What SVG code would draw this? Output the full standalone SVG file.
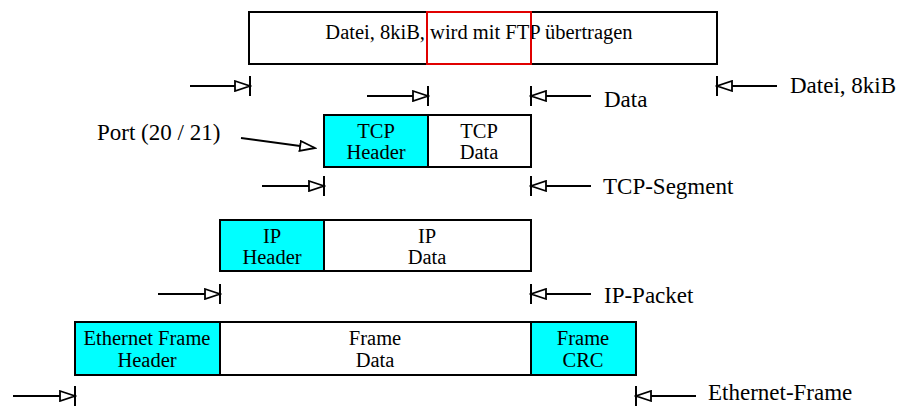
<svg xmlns="http://www.w3.org/2000/svg" width="897" height="406" viewBox="0 0 897 406">
<style>
text{font-family:'Liberation Serif','Times New Roman',Times,serif;font-size:20.5px;fill:#000}
.c{text-anchor:middle}
.lb{font-size:23px}
.box{fill:#fff;stroke:#000;stroke-width:2}
.hdr{fill:#00ffff;stroke:#000;stroke-width:2}
.ln{stroke:#000;stroke-width:2;fill:none}
.ar{stroke:#000;stroke-width:2;fill:none;marker-end:url(#tri)}
</style>
<defs>
<marker id="tri" markerUnits="userSpaceOnUse" markerWidth="18" markerHeight="12" refX="15" refY="5" orient="auto" viewBox="-1 -1 18 12">
<path d="M0,0 L15,5 L0,10 Z" fill="#fff" stroke="#000" stroke-width="1.8"/>
</marker>
</defs>
<rect width="897" height="406" fill="#fff"/>
<g id="file">
<rect class="box" x="249" y="12" width="468" height="52"/>
<text class="c" x="479" y="39">Datei, 8kiB, wird mit FTP übertragen</text>
</g>
<g id="ftp-highlight">
<rect x="427" y="12" width="104" height="52" fill="none" stroke="#e00000" stroke-width="2"/>
</g>
<g id="tcp-header">
<rect class="hdr" x="324" y="115" width="104" height="52"/>
<text class="c" x="376" y="138">TCP</text>
<text class="c" x="376" y="159">Header</text>
</g>
<g id="tcp-data">
<rect class="box" x="428" y="115" width="103" height="52"/>
<text class="c" x="479" y="138">TCP</text>
<text class="c" x="479" y="159">Data</text>
</g>
<g id="ip-header">
<rect class="hdr" x="220" y="220" width="104" height="51"/>
<text class="c" x="272" y="243">IP</text>
<text class="c" x="272" y="264">Header</text>
</g>
<g id="ip-data">
<rect class="box" x="324" y="220" width="207" height="51"/>
<text class="c" x="427" y="243">IP</text>
<text class="c" x="427" y="264">Data</text>
</g>
<g id="eth-header">
<rect class="hdr" x="75" y="322" width="145" height="53"/>
<text class="c" x="147" y="345">Ethernet Frame</text>
<text class="c" x="147" y="367">Header</text>
</g>
<g id="eth-data">
<rect class="box" x="220" y="322" width="311" height="53"/>
<text class="c" x="375" y="345">Frame</text>
<text class="c" x="375" y="367">Data</text>
</g>
<g id="eth-crc">
<rect class="hdr" x="531" y="322" width="105" height="53"/>
<text class="c" x="583" y="345">Frame</text>
<text class="c" x="583" y="367">CRC</text>
</g>
<g id="labels">
<text class="lb" x="790" y="93">Datei, 8kiB</text>
<text class="lb" x="604" y="107">Data</text>
<text class="lb" x="97" y="140">Port (20 / 21)</text>
<text class="lb" x="603" y="194">TCP-Segment</text>
<text class="lb" x="604" y="303">IP-Packet</text>
<text class="lb" x="708" y="400">Ethernet-Frame</text>
</g>
<g id="connectors">
<line class="ln" x1="250" y1="76" x2="250" y2="96"/>
<line class="ar" x1="190" y1="86" x2="250" y2="86"/>
<line class="ln" x1="717" y1="76" x2="717" y2="96"/>
<line class="ar" x1="777" y1="86" x2="717" y2="86"/>
<line class="ln" x1="428" y1="86" x2="428" y2="106"/>
<line class="ar" x1="367" y1="96" x2="428" y2="96"/>
<line class="ln" x1="531" y1="86" x2="531" y2="106"/>
<line class="ar" x1="591" y1="96" x2="531" y2="96"/>
<line class="ar" x1="241" y1="138" x2="315" y2="148"/>
<line class="ln" x1="324" y1="176" x2="324" y2="196"/>
<line class="ar" x1="262" y1="186" x2="324" y2="186"/>
<line class="ln" x1="531" y1="176" x2="531" y2="196"/>
<line class="ar" x1="591" y1="186" x2="531" y2="186"/>
<line class="ln" x1="220" y1="284" x2="220" y2="304"/>
<line class="ar" x1="158" y1="294" x2="220" y2="294"/>
<line class="ln" x1="531" y1="284" x2="531" y2="304"/>
<line class="ar" x1="591" y1="294" x2="531" y2="294"/>
<line class="ln" x1="75" y1="386" x2="75" y2="406"/>
<line class="ar" x1="13" y1="396" x2="75" y2="396"/>
<line class="ln" x1="636" y1="386" x2="636" y2="406"/>
<line class="ar" x1="696" y1="396" x2="636" y2="396"/>
</g>
</svg>
